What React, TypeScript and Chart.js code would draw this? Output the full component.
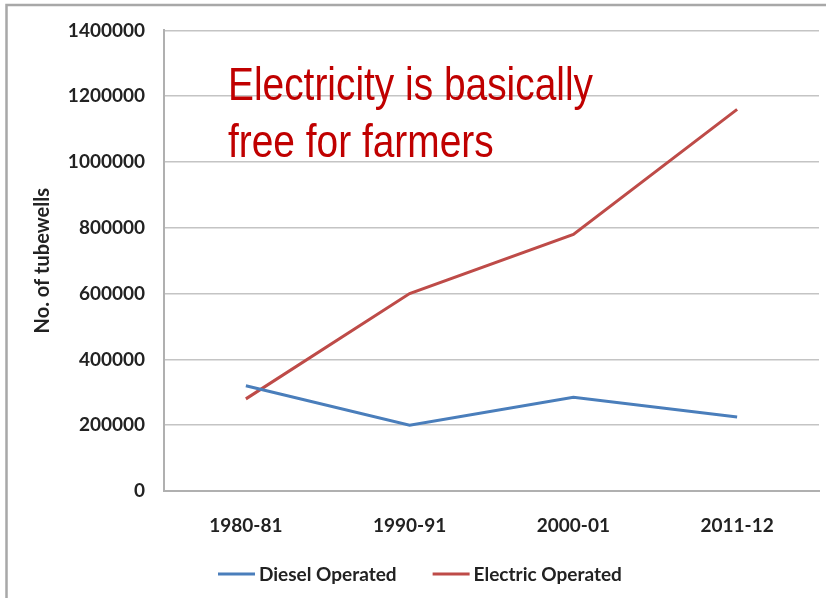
import React, { useEffect, useRef } from "react";
import { Chart, registerables } from "chart.js";

Chart.register(...registerables);

// Tubewell counts by year
const periods = ["1980-81", "1990-91", "2000-01", "2011-12"];
const dieselOperated = [320000, 200000, 285000, 225000];
const electricOperated = [280000, 600000, 780000, 1160000];
const yTicks = [0, 200000, 400000, 600000, 800000, 1000000, 1200000, 1400000];
const noteLines = ["Electricity is basically", "free for farmers"];

const W = 826;
const H = 598;
const FAMILY = "Lato, 'Liberation Sans', sans-serif";
const TICK_FONT = { family: FAMILY, size: 19, weight: "bold" as const };

// Frame, annotation and legend drawn around the chart
const decorPlugin = {
  id: "decor",
  beforeDraw(chart: any) {
    const ctx = chart.ctx;
    ctx.save();
    ctx.fillStyle = "#ffffff";
    ctx.fillRect(0, 0, W, H);
    ctx.strokeStyle = "#a8a8a8";
    ctx.lineWidth = 2.5;
    ctx.beginPath();
    ctx.moveTo(W, 5);
    ctx.lineTo(6.5, 5);
    ctx.lineTo(6.5, H);
    ctx.stroke();
    ctx.restore();
  },
  afterDraw(chart: any) {
    const ctx = chart.ctx;
    ctx.save();
    // condensed red note
    ctx.font = "46px 'Liberation Sans', Arial, sans-serif";
    ctx.fillStyle = "#c00000";
    ctx.textBaseline = "alphabetic";
    const w0 = ctx.measureText(noteLines[0]).width;
    const sx = 365 / w0;
    noteLines.forEach((line, i) => {
      ctx.save();
      ctx.translate(228, 100 + i * 57);
      ctx.scale(sx, 1);
      ctx.fillText(line, 0, 0);
      ctx.restore();
    });

    // legend
    ctx.font = `bold 19px ${FAMILY}`;
    ctx.textBaseline = "middle";
    ctx.fillStyle = "#222222";
    const ly = 574;
    let x = 218;
    chart.data.datasets.forEach((ds: any) => {
      ctx.strokeStyle = ds.borderColor;
      ctx.lineWidth = 3;
      ctx.beginPath();
      ctx.moveTo(x, ly);
      ctx.lineTo(x + 37, ly);
      ctx.stroke();
      x += 41;
      ctx.fillText(ds.label, x, ly + 1);
      x += ctx.measureText(ds.label).width + 36;
    });
    ctx.restore();
  },
};

export default function App() {
  const ref = useRef<HTMLCanvasElement>(null);

  useEffect(() => {
    if (!ref.current) return;
    const chart = new Chart(ref.current, {
      type: "line",
      data: {
        labels: periods,
        datasets: [
          {
            label: "Diesel Operated",
            data: dieselOperated,
            borderColor: "#4a7ebb",
            backgroundColor: "#4a7ebb",
            borderWidth: 3,
            pointRadius: 0,
            tension: 0,
          },
          {
            label: "Electric Operated",
            data: electricOperated,
            borderColor: "#be4b48",
            backgroundColor: "#be4b48",
            borderWidth: 3,
            pointRadius: 0,
            tension: 0,
          },
        ],
      },
      options: {
        responsive: false,
        animation: false,
        layout: { padding: { top: 26, right: 7, bottom: 0, left: 0 } },
        plugins: {
          legend: { display: false },
          tooltip: { enabled: false },
        },
        scales: {
          x: {
            offset: true,
            grid: { display: false },
            border: { display: true, color: "#b0b0b0", width: 2 },
            ticks: { color: "#222222", font: TICK_FONT, padding: 15, maxRotation: 0 },
            afterFit(scale: any) {
              scale.height = H - 491;
            },
          },
          y: {
            min: 0,
            max: 1400000,
            afterBuildTicks(scale: any) {
              scale.ticks = yTicks.map((v) => ({ value: v }));
            },
            grid: { color: "#c4c4c4", lineWidth: 1.5, drawTicks: false },
            border: { display: true, color: "#b0b0b0", width: 2 },
            ticks: {
              color: "#222222",
              font: TICK_FONT,
              padding: 19,
              callback: (v: any) => String(v),
            },
            title: {
              display: true,
              text: "No. of tubewells",
              color: "#222222",
              font: { family: FAMILY, size: 20, weight: "bold" },
              padding: { top: 31, bottom: 0 },
            },
            afterFit(scale: any) {
              scale.width = 164;
            },
          },
        },
      },
      plugins: [decorPlugin],
    });
    return () => chart.destroy();
  }, []);

  return (
    <div style={{ position: "fixed", left: 0, top: 0, width: W, height: H }}>
      <canvas ref={ref} width={W} height={H} style={{ display: "block" }} />
    </div>
  );
}
